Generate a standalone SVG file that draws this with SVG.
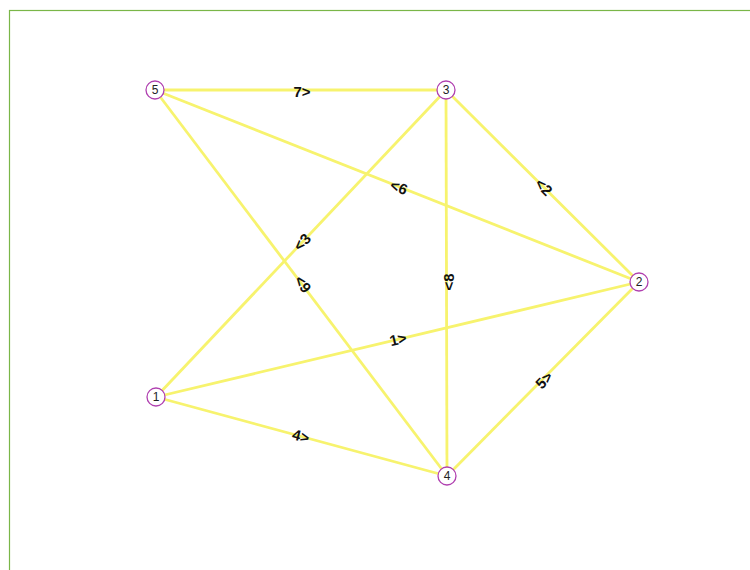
<svg xmlns="http://www.w3.org/2000/svg" width="750" height="570" viewBox="0 0 750 570">
<style>
.e{stroke:#f7f36e;stroke-width:2.8;fill:none}
.l{font-family:"Liberation Sans",Arial,sans-serif;font-size:15px;font-weight:bold;fill:#111;text-anchor:middle;dominant-baseline:central}
.n circle{fill:#fff;stroke:#b040b0;stroke-width:1.3}
.n text{font-family:"Liberation Sans",Arial,sans-serif;font-size:12px;fill:#222;text-anchor:middle;dominant-baseline:central}
</style>
<rect x="0" y="0" width="750" height="570" fill="#fff"/>
<rect x="9.5" y="10.5" width="750" height="570" fill="none" stroke="#7ab648" stroke-width="1.2"/>
<g id="connectors">
<line class="e" x1="155" y1="90" x2="446" y2="90"/>
<line class="e" x1="155" y1="90" x2="639" y2="282"/>
<line class="e" x1="446" y1="90" x2="639" y2="282"/>
<line class="e" x1="156" y1="397" x2="446" y2="90"/>
<line class="e" x1="155" y1="90" x2="447" y2="476"/>
<line class="e" x1="446" y1="90" x2="447" y2="476"/>
<line class="e" x1="156" y1="397" x2="639" y2="282"/>
<line class="e" x1="156" y1="397" x2="447" y2="476"/>
<line class="e" x1="447" y1="476" x2="639" y2="282"/>
<text class="l" transform="translate(302,91)">7&gt;</text>
<text class="l" transform="translate(399,187) rotate(21.6)">&lt;6</text>
<text class="l" transform="translate(544,187) rotate(45)">&lt;2</text>
<text class="l" transform="translate(302,242) rotate(-46.6)">&lt;3</text>
<text class="l" transform="translate(303,284) rotate(52.9)">&lt;9</text>
<text class="l" transform="translate(448,282) rotate(-90)">&lt;8</text>
<text class="l" transform="translate(398,339) rotate(-13.4)">1&gt;</text>
<text class="l" transform="translate(301,436) rotate(15.2)">4&gt;</text>
<text class="l" transform="translate(544,380) rotate(-45)">5&gt;</text>
</g>
<g id="node5" class="n"><circle cx="155" cy="90" r="9"/><text x="155" y="90">5</text></g>
<g id="node3" class="n"><circle cx="446" cy="90" r="9"/><text x="446" y="90">3</text></g>
<g id="node2" class="n"><circle cx="639" cy="282" r="9"/><text x="639" y="282">2</text></g>
<g id="node1" class="n"><circle cx="156" cy="397" r="9"/><text x="156" y="397">1</text></g>
<g id="node4" class="n"><circle cx="447" cy="476" r="9"/><text x="447" y="476">4</text></g>
</svg>
